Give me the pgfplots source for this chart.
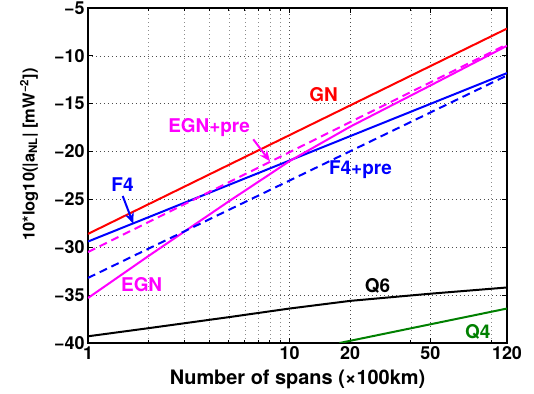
\documentclass[border=0pt]{standalone}
\usepackage{fontspec}
\setmainfont{TeX Gyre Heros}
\usepackage{pgfplots}
\pgfplotsset{compat=1.18}
\usetikzlibrary{arrows.meta}
\definecolor{mygreen}{RGB}{0,128,0}
\definecolor{myred}{RGB}{255,0,0}
\definecolor{myblue}{RGB}{0,0,255}
\definecolor{mymag}{RGB}{255,0,255}
\begin{document}
\begin{tikzpicture}
\begin{axis}[
  scale only axis, width=419bp, height=335bp,
  xmode=log, xmin=1, xmax=120, ymin=-40, ymax=-5,
  xtick={1,10,20,50,120}, xticklabels={1,10,20,50,120},
  minor xtick={2,3,4,5,6,7,8,9,40,100},
  ytick={-40,-35,-30,-25,-20,-15,-10,-5},
  yticklabels={−40,−35,−30,−25,−20,−15,−10,−5},
  grid=both,
  major grid style={black!70, line width=0.7bp, dash pattern=on 1bp off 3bp},
  minor grid style={black!45, line width=0.6bp, dash pattern=on 1bp off 3bp},
  major tick length=5bp, minor tick length=3bp,
  tick style={black, line width=1bp},
  axis line style={line width=2bp},
  tick label style={font=\fontsize{18}{18}\selectfont\bfseries},
  xlabel={Number of spans (×100km)},
  ylabel={10*log10(|a\textsubscript{NL}| [mW\textsuperscript{−2}])},
  xlabel style={font=\fontsize{20}{20}\selectfont\bfseries, at={(axis description cs:0.5,-0.1075)}, anchor=center},
  ylabel style={font=\fontsize{16.5}{16.5}\selectfont\bfseries, at={(axis description cs:-0.1408,0.563)}, anchor=center},
  every axis plot/.append style={line width=2bp},
]
\addplot[mygreen] coordinates {(17.7,-40) (120,-36.4)};
\addplot[black] coordinates {(1,-39.3) (2,-38.45) (5,-37.3) (10,-36.4) (20,-35.6) (50,-34.85) (120,-34.2)};
\addplot[myred] coordinates {(1,-28.6) (120,-7.15)};
\addplot[myblue] coordinates {(1,-29.4) (120,-11.8)};
\addplot[mymag] coordinates {(1,-35.3) (2,-30.9) (5,-25.2) (10,-21.0) (20,-17.4) (50,-13.1) (120,-8.95)};
\addplot[myblue, dash pattern=on 8bp off 5bp] coordinates {(1,-33.2) (120,-12.05)};
\addplot[mymag, dash pattern=on 8bp off 5bp] coordinates {(1,-30.5) (120,-8.8)};

\begin{scope}[font=\fontsize{19}{19}\selectfont\bfseries]
\node[myred] at (axis cs:14.74,-14.04) {GN};
\node[mymag] at (axis cs:3.99,-17.49) {EGN+pre};
\node[myblue] at (axis cs:1.483,-23.44) {F4};
\node[myblue] at (axis cs:22.5,-21.87) {F4+pre};
\node[mymag] at (axis cs:1.846,-33.89) {EGN};
\node[black] at (axis cs:27.3,-34.05) {Q6};
\node[mygreen] at (axis cs:85.9,-38.8) {Q4};
\end{scope}
\draw[mymag, line width=2bp, -{Stealth[length=11bp,width=9bp]}] (axis cs:6.61,-18.72) -- (axis cs:8.0,-21.02);
\draw[myblue, line width=2bp, -{Stealth[length=11bp,width=9bp]}] (axis cs:1.487,-24.64) -- (axis cs:1.678,-27.54);
\end{axis}
\pgfresetboundingbox
\path ([shift={(-88bp,-51bp)}]current axis.south west) rectangle ([shift={(27bp,8bp)}]current axis.north east);
\end{tikzpicture}
\end{document}
